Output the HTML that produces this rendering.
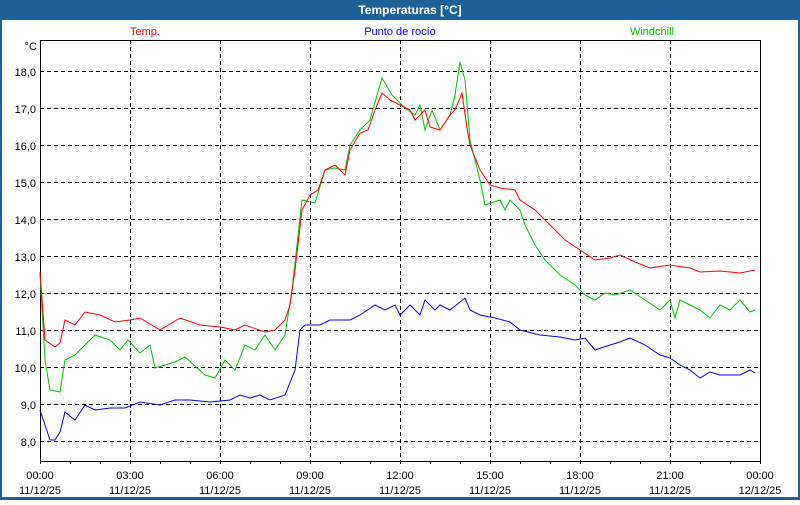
<!DOCTYPE html>
<html><head><style>
body{margin:0;width:800px;height:500px;overflow:hidden;background:#fff;font-family:"Liberation Sans",sans-serif}
</style></head><body>
<svg width="800" height="500" xmlns="http://www.w3.org/2000/svg" font-family="Liberation Sans, sans-serif" font-size="11">
<rect x="0" y="0" width="800" height="500" fill="#1e6098"/>
<rect x="2" y="20" width="796" height="477" fill="#fff"/>
<text x="410" y="14" fill="#fff" font-weight="bold" text-anchor="middle" font-size="12">Temperaturas [°C]</text>
<text x="145" y="35" fill="#ff0000" text-anchor="middle">Temp.</text>
<text x="400" y="35" fill="#0000ff" text-anchor="middle">Punto de rocío</text>
<text x="652" y="35" fill="#00c000" text-anchor="middle">Windchill</text>
<text x="37" y="50" text-anchor="end">°C</text>
<g stroke="#000" stroke-dasharray="4,3" stroke-width="1">
<line x1="40" x2="760" y1="71.5" y2="71.5"/><line x1="40" x2="760" y1="108.5" y2="108.5"/>
<line x1="40" x2="760" y1="145.5" y2="145.5"/><line x1="40" x2="760" y1="182.5" y2="182.5"/>
<line x1="40" x2="760" y1="219.5" y2="219.5"/><line x1="40" x2="760" y1="256.5" y2="256.5"/>
<line x1="40" x2="760" y1="293.5" y2="293.5"/><line x1="40" x2="760" y1="330.5" y2="330.5"/>
<line x1="40" x2="760" y1="367.5" y2="367.5"/><line x1="40" x2="760" y1="404.5" y2="404.5"/>
<line x1="40" x2="760" y1="441.5" y2="441.5"/>
<line x1="130.5" x2="130.5" y1="40" y2="461"/><line x1="220.5" x2="220.5" y1="40" y2="461"/>
<line x1="310.5" x2="310.5" y1="40" y2="461"/><line x1="400.5" x2="400.5" y1="40" y2="461"/>
<line x1="490.5" x2="490.5" y1="40" y2="461"/><line x1="580.5" x2="580.5" y1="40" y2="461"/>
<line x1="670.5" x2="670.5" y1="40" y2="461"/>
</g>
<rect x="40.5" y="40.5" width="720" height="421" fill="none" stroke="#000"/>
<g stroke="#000">
<path d="M40.5 461v3M70.5 461v3M100.5 461v3M130.5 461v3M160.5 461v3M190.5 461v3M220.5 461v3M250.5 461v3M280.5 461v3M310.5 461v3M340.5 461v3M370.5 461v3M400.5 461v3M430.5 461v3M460.5 461v3M490.5 461v3M520.5 461v3M550.5 461v3M580.5 461v3M610.5 461v3M640.5 461v3M670.5 461v3M700.5 461v3M730.5 461v3M760.5 461v3"/>
</g>
<g text-anchor="end">
<text x="36" y="76">18,0</text><text x="36" y="113">17,0</text><text x="36" y="150">16,0</text>
<text x="36" y="187">15,0</text><text x="36" y="224">14,0</text><text x="36" y="261">13,0</text>
<text x="36" y="298">12,0</text><text x="36" y="335">11,0</text><text x="36" y="372">10,0</text>
<text x="36" y="409">9,0</text><text x="36" y="446">8,0</text>
</g>
<g text-anchor="middle">
<text x="40" y="479">00:00</text><text x="40" y="494">11/12/25</text>
<text x="130" y="479">03:00</text><text x="130" y="494">11/12/25</text>
<text x="220" y="479">06:00</text><text x="220" y="494">11/12/25</text>
<text x="310" y="479">09:00</text><text x="310" y="494">11/12/25</text>
<text x="400" y="479">12:00</text><text x="400" y="494">11/12/25</text>
<text x="490" y="479">15:00</text><text x="490" y="494">11/12/25</text>
<text x="580" y="479">18:00</text><text x="580" y="494">11/12/25</text>
<text x="670" y="479">21:00</text><text x="670" y="494">11/12/25</text>
<text x="760" y="479">00:00</text><text x="760" y="494">12/12/25</text>
</g>
<polyline fill="none" stroke="#0000ff" points="40,410 50,440 55,440 60,432 65,412 75,420 85,405 95,410 110,408 125,408 140,402 160,405 175,400 190,400 210,402 230,400 240,395 250,398 260,395 270,400 285,395 295,370 300,330 305,325 320,325 330,320 350,320 360,315 375,305 385,310 395,305 400,315 410,305 420,315 425,300 435,310 440,305 450,310 465,298 470,310 480,315 495,318 510,322 520,330 540,335 560,337 575,340 585,338 595,350 610,345 620,342 630,338 645,345 660,355 670,358 680,365 690,370 700,378 710,372 720,375 740,375 750,370 755,373"/>
<polyline fill="none" stroke="#00c000" points="40,275 45,360 50,390 60,392 65,360 75,355 80,350 95,335 110,340 120,350 128,340 140,353 150,345 155,368 175,362 185,357 205,375 215,378 225,360 235,370 245,345 255,350 265,335 275,350 285,335 292,290 302,200 315,203 325,170 335,168 345,170 350,145 360,130 370,120 382,78 392,95 405,108 415,115 420,105 425,130 432,110 440,130 450,115 455,95 460,62 465,80 470,140 480,180 485,205 500,200 505,210 510,200 520,210 525,225 535,245 545,260 560,275 575,285 585,295 595,300 605,293 615,295 630,290 645,300 660,310 670,300 675,318 680,300 690,305 700,310 710,318 720,305 730,310 740,300 750,312 755,310"/>
<polyline fill="none" stroke="#ff0000" points="40,272 45,340 55,347 60,343 65,320 75,325 85,312 100,315 115,322 130,320 140,318 160,330 180,318 200,325 220,327 235,330 245,325 265,332 275,330 285,320 290,305 295,270 302,210 310,195 318,190 325,170 335,165 345,175 350,150 360,133 368,130 375,110 382,93 390,100 400,105 410,110 415,120 425,110 430,127 440,130 450,115 455,110 462,93 467,128 470,145 480,170 490,185 500,188 515,190 520,200 535,210 550,225 565,240 580,250 595,260 610,258 620,255 635,262 650,268 670,265 690,268 700,272 720,271 740,273 755,270"/>
</svg>
</body></html>
